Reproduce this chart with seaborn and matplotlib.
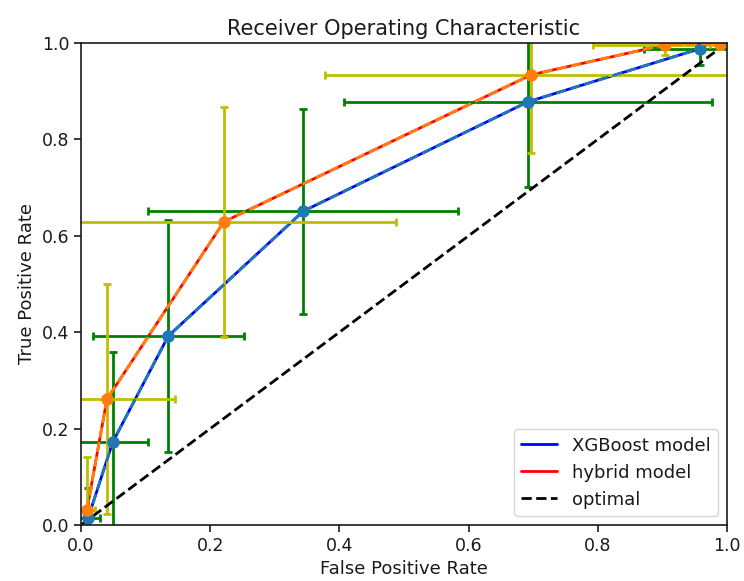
import matplotlib
matplotlib.use("Agg")
import matplotlib.pyplot as plt
import seaborn as sns
import pandas

# XGBoost model ROC points and their spread
xgb_fpr = [0.011, 0.049, 0.135, 0.344, 0.692, 0.958]
xgb_tpr = [0.015, 0.172, 0.392, 0.651, 0.878, 0.988]
xgb_fpr_err = [0.019, 0.055, 0.117, 0.240, 0.285, 0.087]
xgb_tpr_err = [0.062, 0.187, 0.240, 0.213, 0.177, 0.034]

# hybrid model ROC points and their spread
hyb_fpr = [0.009, 0.040, 0.221, 0.697, 0.904, 0.989]
hyb_tpr = [0.031, 0.261, 0.629, 0.934, 0.996, 0.998]
hyb_fpr_err = [0.012, 0.106, 0.267, 0.320, 0.111, 0.015]
hyb_tpr_err = [0.110, 0.238, 0.238, 0.162, 0.021, 0.010]

optimal = [0.0, 1.0]


def plot(dest="out.png"):
	sns.set_style("ticks", {"axes.edgecolor": "0.1", "text.color": "0.1",
							"axes.labelcolor": "0.1", "xtick.color": "0.1",
							"ytick.color": "0.1"})
	plt.rcParams["font.family"] = ["DejaVu Sans"]

	xgb = pandas.DataFrame({"fpr": xgb_fpr, "tpr": xgb_tpr})
	hyb = pandas.DataFrame({"fpr": hyb_fpr, "tpr": hyb_tpr})
	diag = pandas.DataFrame({"fpr": optimal, "tpr": optimal})

	fig = plt.figure(figsize=(7.44, 5.81), dpi=100)
	ax = fig.add_axes([0.109, 0.0964, 0.868, 0.8296])

	sns.lineplot(x="fpr", y="tpr", data=xgb, ax=ax, color="b", lw=2,
				 sort=False, label="XGBoost model")
	sns.lineplot(x="fpr", y="tpr", data=hyb, ax=ax, color="r", lw=2,
				 sort=False, label="hybrid model")

	ax.errorbar(xgb_fpr, xgb_tpr, xerr=xgb_fpr_err, yerr=xgb_tpr_err,
				fmt="--o", color="C0", ecolor="g", lw=2, elinewidth=2,
				capsize=3, capthick=2, markersize=8)
	ax.errorbar(hyb_fpr, hyb_tpr, xerr=hyb_fpr_err, yerr=hyb_tpr_err,
				fmt="--o", color="C1", ecolor="y", lw=2, elinewidth=2,
				capsize=3, capthick=2, markersize=8)

	sns.lineplot(x="fpr", y="tpr", data=diag, ax=ax, color="k", lw=2,
				 linestyle="--", label="optimal")

	ax.set_xlim(0, 1)
	ax.set_ylim(0, 1)
	ax.set_title("Receiver Operating Characteristic", fontsize=15)
	ax.set_xlabel("False Positive Rate", fontsize=13)
	ax.set_ylabel("True Positive Rate", fontsize=13)
	ax.tick_params(labelsize=12.5, width=1.2, length=5)
	for s in ax.spines.values():
		s.set_linewidth(1.2)

	ax.legend(loc="lower right", fontsize=13)
	plt.savefig(dest, dpi=100)


if __name__ == "__main__":
	plot()
